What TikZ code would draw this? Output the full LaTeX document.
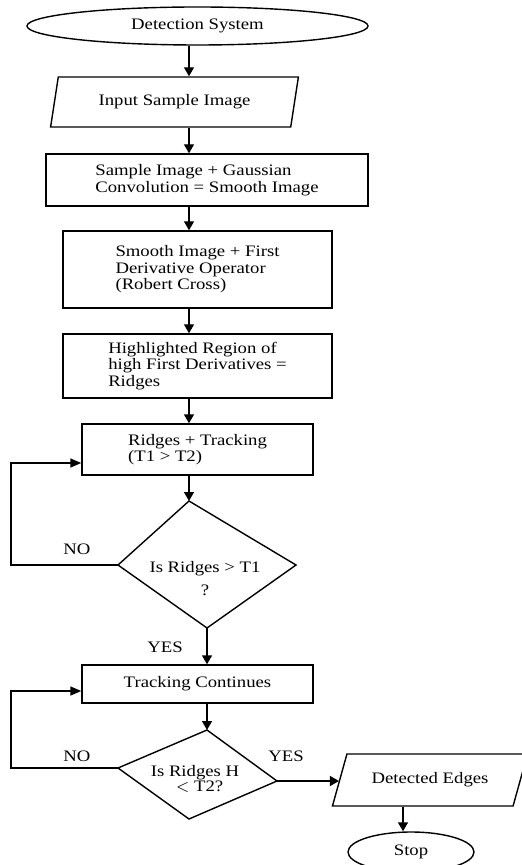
\documentclass[tikz,border=0pt]{standalone}
\usepackage{fontspec}
\setmainfont{Liberation Serif}[FakeStretch=1.17]
\usetikzlibrary{arrows.meta,shapes.geometric}
\tikzset{
  box/.style={draw, line width=0.7pt, inner sep=0pt, align=left, font=\fontsize{8}{8.25}\selectfont},
  term/.style={draw, line width=0.7pt, ellipse, inner sep=0pt, font=\fontsize{8}{8.25}\selectfont},
  io/.style={draw, line width=0.7pt, trapezium, trapezium stretches=true, inner sep=0pt,
             font=\fontsize{8}{8.25}\selectfont},
  tag/.style={inner sep=0pt, align=center, font=\fontsize{8}{8.25}\selectfont},
  flow/.style={-{Triangle[length=4.5pt,width=5pt]}, line width=0.7pt},
  loop/.style={-{Triangle[length=5.5pt,width=4.5pt]}, line width=0.7pt},
}
\begin{document}
\begin{tikzpicture}[x=0.5pt,y=-0.5pt]
    \useasboundingbox (0,0) rectangle (521,865);
    \coordinate (spine) at (189,0);
    \coordinate (lx) at (11,0);
    % main column
    \node[term,minimum width=170.5pt,minimum height=19pt] (sys) at (197.5,26) {Detection System};
    \node[io,trapezium left angle=71,trapezium right angle=109,
          minimum width=124.5pt,minimum height=25pt] (inp) at (174.5,102) {Input Sample Image};
    \node[box,minimum width=161pt,minimum height=26pt] (gau) at (207,180)
      {Sample Image + Gaussian\\ Convolution = Smooth Image};
    \node[box,minimum width=134.5pt,minimum height=38.5pt] (rob) at (197.5,269.5)
      {Smooth Image + First\\ Derivative Operator\\ (Robert Cross)};
    \node[box,minimum width=134.5pt,minimum height=32pt] (hil) at (197.5,366)
      {Highlighted Region of\\ high First Derivatives =\\ Ridges};
    \node[box,minimum width=115.5pt,minimum height=25.5pt] (rtr) at (197.5,449.5)
      {Ridges + Tracking\\ (T1 > T2)};
    \draw[flow] (sys.south -| spine) -- (inp.north -| spine);
    \draw[flow] (inp.south -| spine) -- (gau.north -| spine);
    \draw[flow] (gau.south -| spine) -- (rob.north -| spine);
    \draw[flow] (rob.south -| spine) -- (hil.north -| spine);
    \draw[flow] (hil.south -| spine) -- (rtr.north -| spine);
    % first test
    \coordinate (q1t) at (189,501);
    \coordinate (q1l) at (118,565);
    \coordinate (q1r) at (296,565);
    \coordinate (q1b) at (207,628);
    \draw[line width=0.7pt] (q1t) -- (q1r) -- (q1b) -- (q1l) -- cycle;
    \node[tag] (q1txt) at (205,578.5) {Is Ridges > T1\\[3.5pt]?};
    \draw[flow] (rtr.south -| q1t) -- (q1t);
    \draw[loop] (q1l) -- (q1l -| lx) |- ([yshift=-6.75pt]rtr.west);
    \node[tag] (no1) at (77,549) {NO};
    \node[tag] (yes1) at (165,647) {YES};
    % tracking
    \node[box,align=center,minimum width=115.5pt,minimum height=19pt] (tcont) at (197.5,684)
      {Tracking Continues};
    \draw[flow] (q1b) -- (q1b |- tcont.north);
    % second test
    \coordinate (q2t) at (207,730);
    \coordinate (q2l) at (118,768);
    \coordinate (q2r) at (277,781);
    \coordinate (q2b) at (189,819);
    \draw[line width=0.7pt] (q2t) -- (q2r) -- (q2b) -- (q2l) -- cycle;
    \node[tag] (q2txt) at (195,779) {Is Ridges H\\[-0.5pt]\ \ $<$\ T2?};
    \draw[flow] (tcont.south -| q2t) -- (q2t);
    \draw[loop] (q2l) -- (q2l -| lx) |- ([yshift=-3.5pt]tcont.west);
    \node[tag] (no2) at (77,756) {NO};
    \node[tag] (yes2) at (286,756) {YES};
    % output
    \node[io,trapezium left angle=55,trapezium right angle=125,
          minimum width=98pt,minimum height=26pt] (det) at (430,780) {Detected Edges};
    \node[term,minimum width=63pt,minimum height=20pt] (stp) at (411,852) {Stop};
    \draw[flow] (q2r) -- (q2r -| det.west);
    \draw[flow] ([xshift=-4pt]stp.north |- det.south) -- ([xshift=-4pt]stp.north);
\end{tikzpicture}
\end{document}
